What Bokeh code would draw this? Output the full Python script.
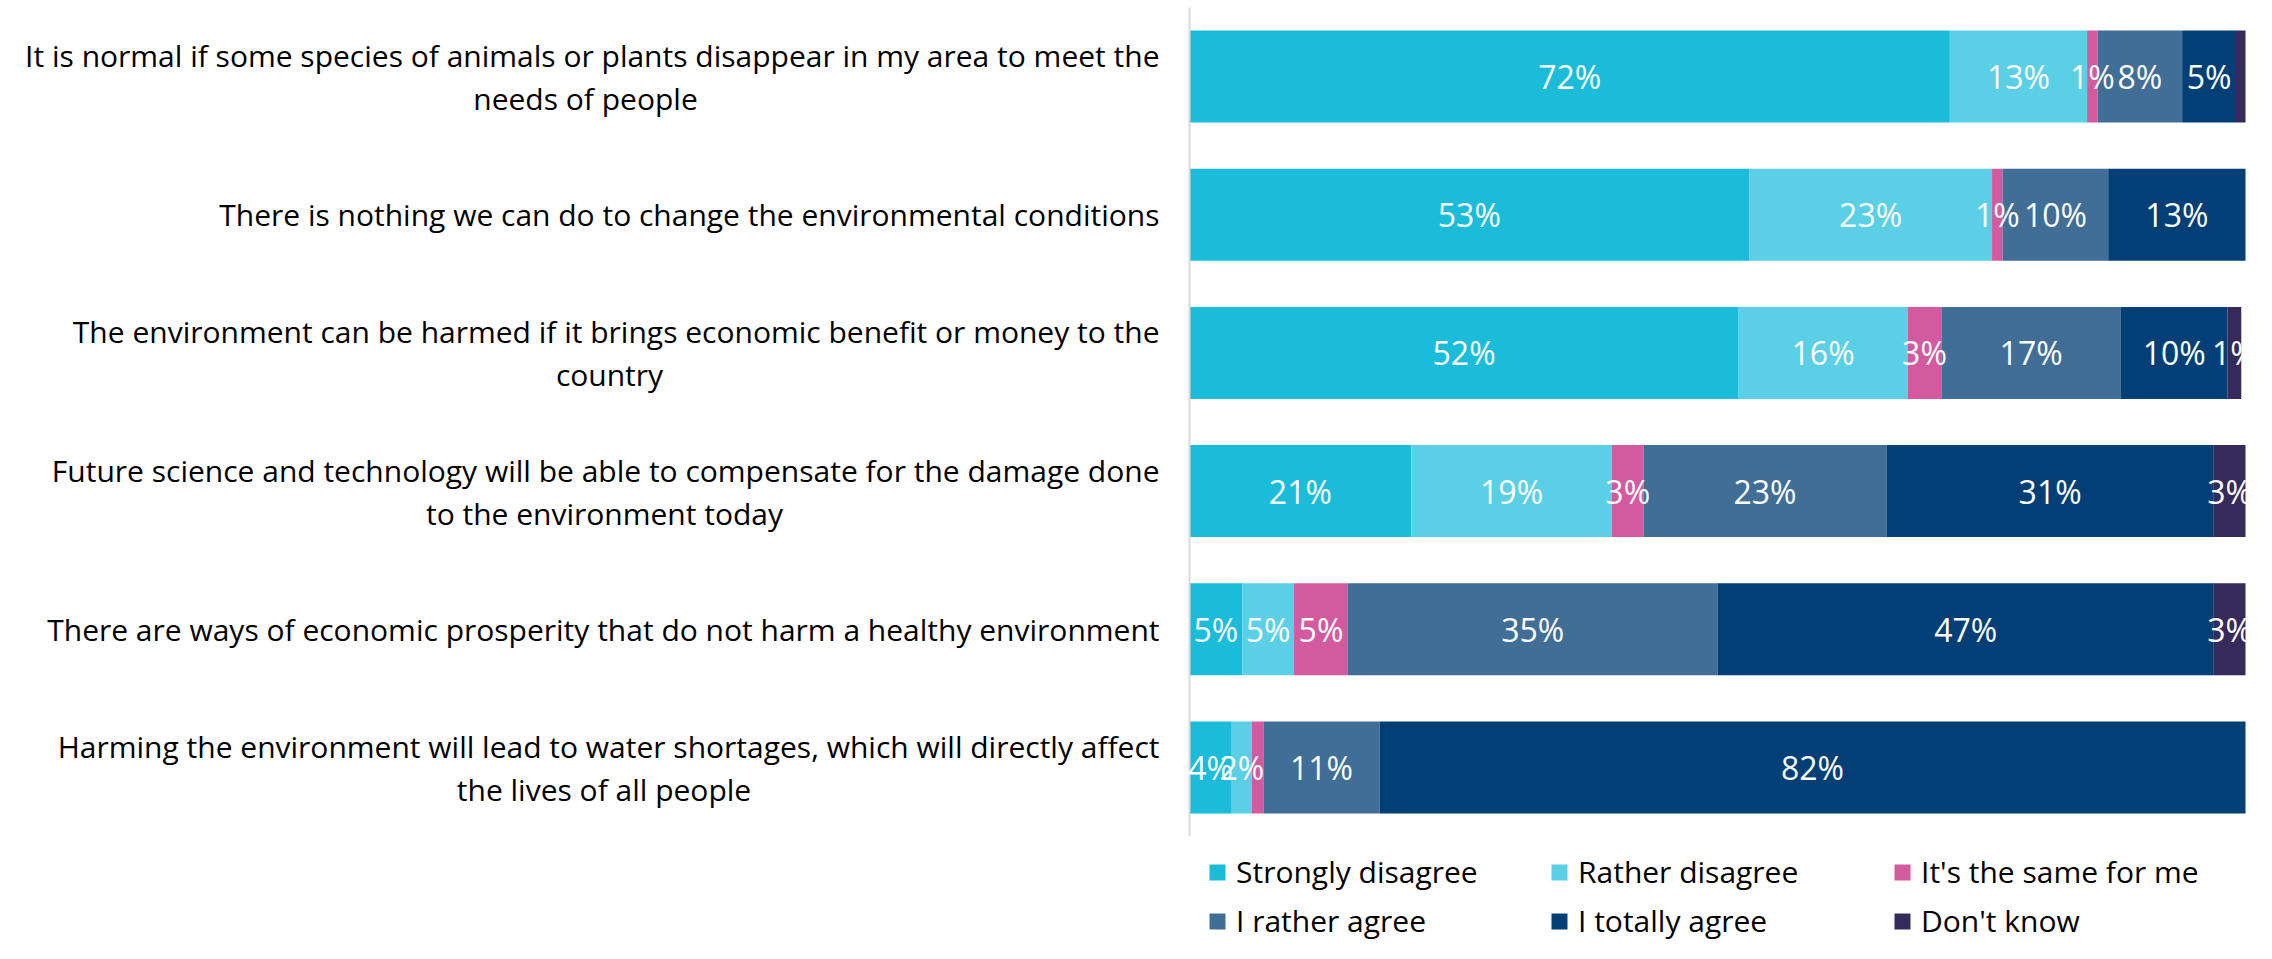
from bokeh.plotting import figure
from bokeh.models import ColumnDataSource, LabelSet, Legend, LegendItem, Range1d
from bokeh.core.properties import value
from bokeh.embed import file_html
from bokeh.resources import INLINE

# ---- data (percent), rows from top to bottom ----
statements = [
    ["It is normal if some species of animals or plants disappear in my area to meet the", "needs of people"],
    ["There is nothing we can do to change the environmental conditions"],
    ["The environment can be harmed if it brings economic benefit or money to the", "country"],
    ["Future science and technology will be able to compensate for the damage done", "to the environment today"],
    ["There are ways of economic prosperity that do not harm a healthy environment"],
    ["Harming the environment will lead to water shortages, which will directly affect", "the lives of all people"],
]
series_names = ["Strongly disagree", "Rather disagree", "It's the same for me",
                "I rather agree", "I totally agree", "Don't know"]
strongly_disagree = [72, 53, 52, 21, 5, 4]
rather_disagree = [13, 23, 16, 19, 4.9, 1.9]
same_for_me = [1, 1, 3.2, 3, 5.1, 1.1]
rather_agree = [8, 10, 17, 23, 35, 11]
totally_agree = [5.1, 13, 10.1, 31, 47, 82]
dont_know = [0.9, 0, 1.3, 3, 3, 0]
# data labels that the original chart does not show: (row, series)
hidden_labels = [(0, 5), (5, 2)]

colors = ["#1BBCDA", "#5BCFE6", "#D35A9E", "#406E96", "#033F77", "#352A5A"]
FONT = "Open Sans"

series = [strongly_disagree, rather_disagree, same_for_me, rather_agree, totally_agree, dont_know]
keys = ["s0", "s1", "s2", "s3", "s4", "s5"]
n = len(statements)
data = {"y": list(range(n))}
for k, s in zip(keys, series):
    data[k] = s
source = ColumnDataSource(data)

# layout (screen pixels): the frame fills the canvas, bars occupy [BAR_L, BAR_R]
W, H = 2256, 943
BAR_L, BAR_R = 1189, 2245
TOP = 7                 # top of the category band
PX_PER_PCT = (BAR_R - BAR_L) / 100.0
ROW_PX = 829 / n
x_start = -BAR_L / PX_PER_PCT
x_end = 100 + (W - BAR_R) / PX_PER_PCT
y_top = -0.5 - TOP / ROW_PX
y_bottom = y_top + H / ROW_PX
LABEL_GAP = 30                                   # gap between category text and axis
LINE1_WIDTH = [1148, 0, 1100, 1110, 0, 1111]     # approx. width of wrapped first lines
UP, DOWN = 21, 22

p = figure(width=W, height=H, output_backend="svg", toolbar_location=None,
           x_range=Range1d(x_start, x_end), y_range=Range1d(y_bottom, y_top),
           min_border=0)
p.outline_line_color = None
p.grid.visible = False
p.xaxis.visible = False
p.yaxis.fixed_location = 0
p.yaxis.bounds = (-0.5, n - 0.5)
p.yaxis.axis_line_color = "#D9D9D9"
p.yaxis.axis_line_width = 2
p.yaxis.major_tick_line_color = None
p.yaxis.minor_tick_line_color = None
p.yaxis.major_label_text_color = None
p.yaxis.major_label_text_font_size = "1px"

renderers = p.hbar_stack(keys, y="y", height=0.666, color=colors, line_color=None,
                         source=source)

# data labels
lx, ly, lt = [], [], []
for i in range(n):
    left = 0.0
    for j, s in enumerate(series):
        v = s[i]
        if v > 0 and (i, j) not in hidden_labels:
            lx.append(left + v / 2)
            ly.append(i)
            lt.append(f"{round(v)}%")
        left += v
lab_src = ColumnDataSource(dict(x=lx, y=ly, text=lt))
p.add_layout(LabelSet(x="x", y="y", text="text", source=lab_src,
                      text_align="center", text_baseline="middle",
                      text_color="white", text_font=value(FONT),
                      text_font_size="32px"))

# category labels: first line right aligned, second line centred under it
l1 = dict(x=[], y=[], text=[], yo=[])
l2 = dict(x=[], y=[], text=[], xo=[], yo=[])
for i, lines in enumerate(statements):
    two = len(lines) > 1
    l1["x"].append(0); l1["y"].append(i); l1["text"].append(lines[0])
    l1["yo"].append(UP if two else 0)
    if two:
        l2["x"].append(0); l2["y"].append(i); l2["text"].append(lines[1])
        l2["xo"].append(-LABEL_GAP - LINE1_WIDTH[i] / 2)
        l2["yo"].append(-DOWN)
p.add_layout(LabelSet(x="x", y="y", text="text", source=ColumnDataSource(l1),
                      x_offset=-LABEL_GAP, y_offset="yo",
                      text_align="right", text_baseline="middle",
                      text_color="#000000", text_font=value(FONT),
                      text_font_size="30px"))
p.add_layout(LabelSet(x="x", y="y", text="text", source=ColumnDataSource(l2),
                      x_offset="xo", y_offset="yo",
                      text_align="center", text_baseline="middle",
                      text_color="#000000", text_font=value(FONT),
                      text_font_size="30px"))

# legend: three columns of two items
cols = [(0, 3), (1, 4), (2, 5)]
col_x = [BAR_L + 18, BAR_L + 360, BAR_L + 703]
for (a, b), cx in zip(cols, col_x):
    leg = Legend(items=[LegendItem(label=series_names[a], renderers=[renderers[a]]),
                        LegendItem(label=series_names[b], renderers=[renderers[b]])],
                 location=(cx, 2), orientation="vertical",
                 glyph_width=20, glyph_height=20, label_standoff=9, spacing=8,
                 padding=0, margin=0, border_line_color=None,
                 background_fill_alpha=0, label_text_font=FONT,
                 label_text_font_size="30px", label_text_color="#000000")
    p.add_layout(leg, "center")

open("out.html", "w").write(file_html(p, INLINE))
